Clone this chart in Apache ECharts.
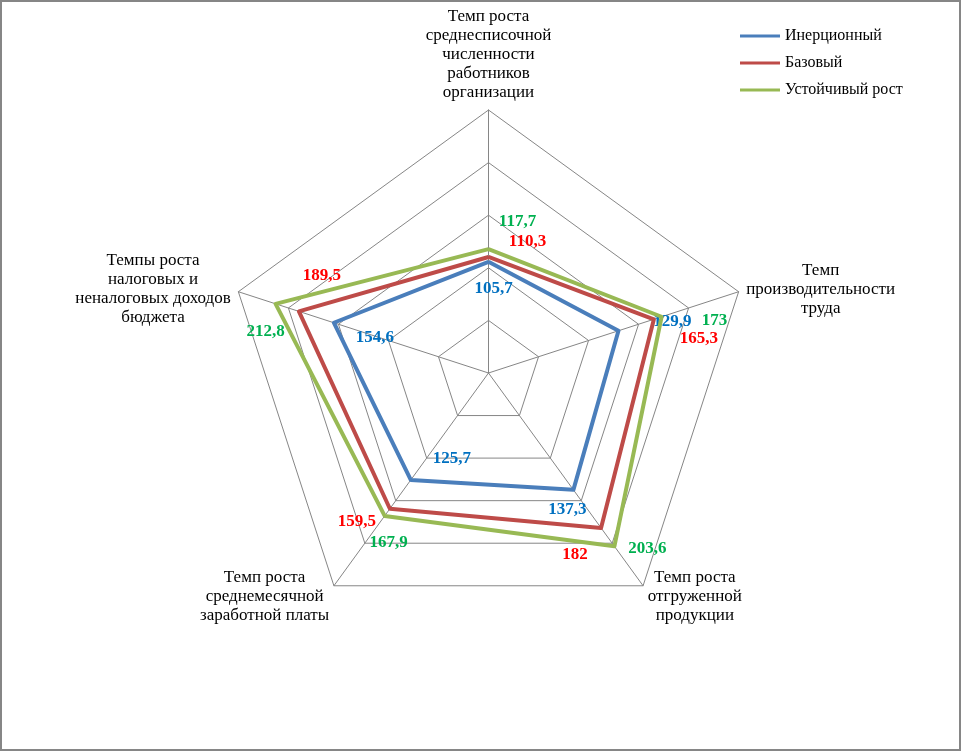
<!DOCTYPE html>
<html>
<head>
<meta charset="utf-8">
<script src="https://cdn.jsdelivr.net/npm/echarts@6/dist/echarts.min.js"></script>
<style>
html,body{margin:0;padding:0;background:#fff;}
#chart{position:absolute;left:0;top:0;width:961px;height:751px;}
#frame{position:absolute;left:0;top:0;width:961px;height:751px;box-sizing:border-box;border:2px solid #868686;pointer-events:none;}
</style>
</head>
<body>
<div id="chart"></div>
<div id="frame"></div>
<script>
// Indicators in ECharts (counter-clockwise) order: top, left, bottom-left, bottom-right, right
var indicatorNames = [
  'Темп роста\nсреднесписочной\nчисленности\nработников\nорганизации',
  'Темпы роста\nналоговых и\nненалоговых доходов\nбюджета',
  'Темп роста\nсреднемесячной\nзаработной платы',
  'Темп роста\nотгруженной\nпродукции',
  'Темп\nпроизводительности\nтруда'
];
var seriesNames = ['Инерционный', 'Базовый', 'Устойчивый рост'];
var inertValues = [105.7, 154.6, 125.7, 137.3, 129.9];
var baseValues = [110.3, 189.5, 159.5, 182, 165.3];
var growthValues = [117.7, 212.8, 167.9, 203.6, 173];
var axisMax = 250;

var lineColors = ['#4a7ebb', '#be4b48', '#98b954'];
var labelColors = ['#0070c0', '#ff0000', '#00b050'];
// label offsets (dx, dy) per series per indicator (same order as indicators)
var labelOffsets = [
  [[5, 27], [41, 15], [41, -21], [-6, 20], [54, -9]],
  [[39, -15], [23, -36], [-33, 13], [-26, 27], [45, 19]],
  [[29, -28], [-10, 28], [4, 27], [33, 2], [53, 4]]
];
var lowerIndicators = [2, 3];
var CX = 488.5, CY = 373, R = 263;

var chart = echarts.init(document.getElementById('chart'), null, {renderer: 'canvas'});
var allValues = [inertValues, baseValues, growthValues];

function fmtNum(v) { return String(v).replace('.', ','); }

var series = allValues.map(function (vals, si) {
  return {
    type: 'radar',
    name: seriesNames[si],
    symbol: 'circle',
    symbolSize: 2,
    z: 2 + si,
    itemStyle: {color: lineColors[si]},
    lineStyle: {color: lineColors[si], width: 4},
    label: {
      show: true,
      position: 'inside',
      color: labelColors[si],
      fontFamily: 'Liberation Serif',
      fontSize: 17,
      fontWeight: 'bold',
      formatter: function (p) { return fmtNum(p.value); }
    },
    labelLayout: function (p) {
      var px = p.rect.x + p.rect.width / 2 - CX;
      var py = CY - (p.rect.y + p.rect.height / 2);
      var ang = Math.atan2(py, px) * 180 / Math.PI;
      var idx = Math.round((ang - 90) / 72);
      idx = ((idx % 5) + 5) % 5;
      var off = labelOffsets[si][idx];
      return {dx: off[0], dy: off[1]};
    },
    data: [{value: vals, name: seriesNames[si]}]
  };
});

var option = {
  animation: false,
  backgroundColor: '#ffffff',
  legend: {
    orient: 'vertical',
    left: 735,
    top: 22,
    icon: 'rect',
    itemWidth: 40,
    itemHeight: 3,
    itemGap: 9,
    data: seriesNames,
    textStyle: {fontFamily: 'Liberation Serif', fontSize: 16, color: '#000', lineHeight: 18}
  },
  radar: {
    center: [CX, CY],
    radius: R,
    startAngle: 90,
    splitNumber: 5,
    shape: 'polygon',
    axisNameGap: 8,
    axisName: {
      color: '#000',
      fontFamily: 'Liberation Serif',
      fontSize: 17,
      formatter: function (name) {
        var idx = indicatorNames.indexOf(name);
        var body = name.split('\n').map(function (s) { return '{c|' + s + '}'; }).join('\n');
        if (lowerIndicators.indexOf(idx) >= 0) { body = '{s| }\n' + body; }
        return body;
      },
      rich: {
        c: {align: 'center', fontFamily: 'Liberation Serif', fontSize: 17, lineHeight: 19, color: '#000'},
        s: {fontSize: 6, lineHeight: 8}
      }
    },
    splitArea: {show: false},
    splitLine: {lineStyle: {color: '#868686', width: 1}},
    axisLine: {lineStyle: {color: '#868686', width: 1}},
    indicator: indicatorNames.map(function (n) { return {name: n, min: 0, max: axisMax}; })
  },
  series: series
};
chart.setOption(option);
</script>
</body>
</html>
